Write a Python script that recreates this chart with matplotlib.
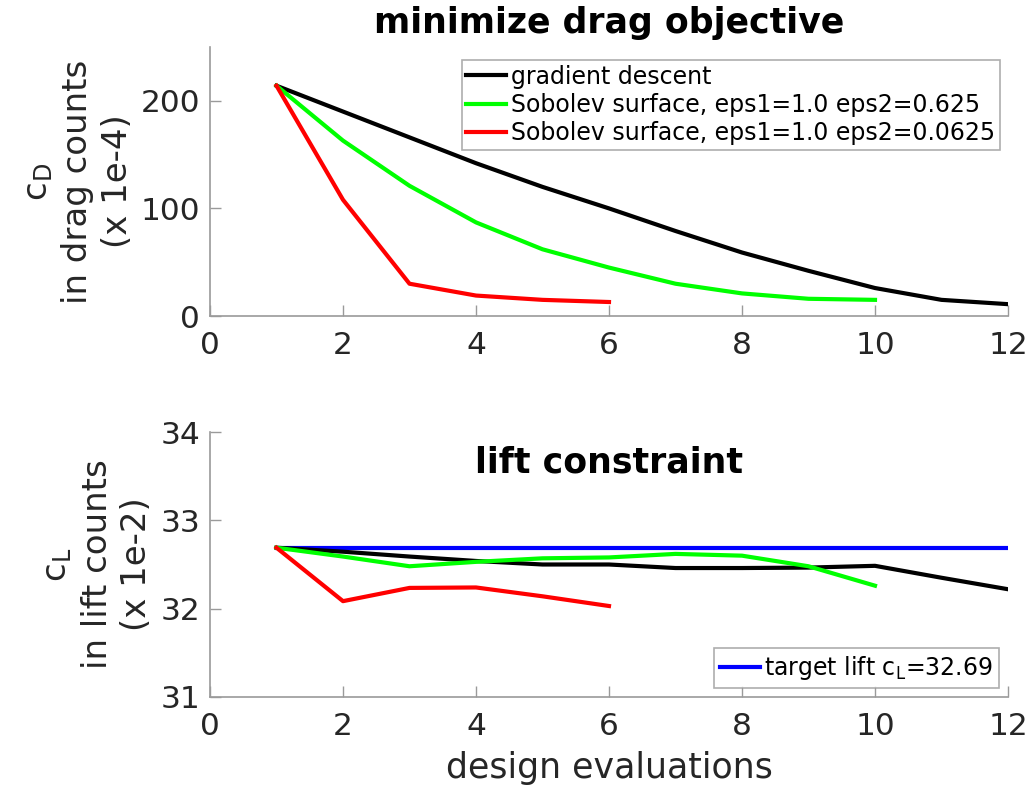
import matplotlib
matplotlib.use("Agg")
import matplotlib.pyplot as plt

plt.rcParams['font.family'] = ['DejaVu Sans']
plt.rcParams['mathtext.default'] = 'regular'

# design evaluation indices
evals_gd = [1, 2, 3, 4, 5, 6, 7, 8, 9, 10, 11, 12]
evals_sob1 = [1, 2, 3, 4, 5, 6, 7, 8, 9, 10]
evals_sob2 = [1, 2, 3, 4, 5, 6]

# drag coefficient (drag counts, x 1e-4)
cd_gd = [214, 190, 166, 142, 120, 100, 79, 59, 42, 26, 15, 11]
cd_sob1 = [214, 163, 121, 87, 62, 45, 30, 21, 16, 15]
cd_sob2 = [214, 108, 30, 19, 15, 13]

# lift coefficient (lift counts, x 1e-2)
cl_gd = [32.69, 32.645, 32.59, 32.54, 32.50, 32.50, 32.46, 32.46, 32.465, 32.485, 32.35, 32.22]
cl_sob1 = [32.69, 32.59, 32.48, 32.53, 32.57, 32.58, 32.62, 32.60, 32.48, 32.26]
cl_sob2 = [32.69, 32.085, 32.235, 32.24, 32.14, 32.03]
cl_target = 32.69

labels = ["gradient descent",
          "Sobolev surface, eps1=1.0 eps2=0.625",
          "Sobolev surface, eps1=1.0 eps2=0.0625"]
colors = ["#000000", "#00ff00", "#ff0000"]

axis_gray = "#9a9a9a"
text_gray = "#262626"

fig = plt.figure(figsize=(10.32, 7.88), dpi=100)
ax1 = fig.add_axes([210/1032, 1 - 316/788, 798/1032, 269/788])
ax2 = fig.add_axes([210/1032, 1 - 697/788, 798/1032, 265/788])


def style(ax):
    for s in ("top", "right"):
        ax.spines[s].set_visible(False)
    for s in ("left", "bottom"):
        ax.spines[s].set_color(axis_gray)
        ax.spines[s].set_linewidth(1.2)
    ax.tick_params(direction="in", length=8, width=1, color=axis_gray,
                   labelcolor=text_gray, labelsize=22.5)
    ax.tick_params(axis="x", pad=11)
    ax.tick_params(axis="y", pad=7)
    ax.set_xlim(0, 12)
    ax.set_xticks(range(0, 13, 2))


lw = 3
ax1.plot(evals_gd, cd_gd, color=colors[0], lw=lw, label=labels[0])
ax1.plot(evals_sob1, cd_sob1, color=colors[1], lw=lw, label=labels[1])
ax1.plot(evals_sob2, cd_sob2, color=colors[2], lw=lw, label=labels[2])
style(ax1)
ax1.set_ylim(0, 250)
ax1.set_yticks([0, 100, 200])
ax1.set_title("minimize drag objective", fontsize=25, fontweight="bold", pad=10)
ax1.set_ylabel("c$_D$\nin drag counts\n(x 1e-4)", fontsize=24.5, color=text_gray,
               linespacing=1.25, labelpad=5)
leg1 = ax1.legend(loc="upper right", fontsize=17, frameon=True, fancybox=False,
                  handlelength=1.7, handletextpad=0.2, borderpad=0.2,
                  labelspacing=0.18, borderaxespad=0,
                  bbox_to_anchor=(0.990, 0.952))
leg1.get_frame().set_edgecolor(axis_gray)
leg1.get_frame().set_linewidth(1.2)

ax2.plot(evals_gd, [cl_target] * len(evals_gd), color="#0000ff", lw=lw,
         label="target lift c$_L$=32.69", zorder=1)
ax2.plot(evals_gd, cl_gd, color=colors[0], lw=lw, zorder=2)
ax2.plot(evals_sob1, cl_sob1, color=colors[1], lw=lw, zorder=3)
ax2.plot(evals_sob2, cl_sob2, color=colors[2], lw=lw, zorder=4)
style(ax2)
ax2.set_ylim(31, 34)
ax2.set_yticks([31, 32, 33, 34])
ax2.text(0.5, 0.885, "lift constraint", transform=ax2.transAxes, ha="center",
         va="center", fontsize=25, fontweight="bold")
ax2.set_ylabel("c$_L$\nin lift counts\n(x 1e-2)", fontsize=24.5, color=text_gray,
               linespacing=1.25, labelpad=5)
ax2.set_xlabel("design evaluations", fontsize=25, color=text_gray, labelpad=7)
leg2 = ax2.legend(loc="lower right", fontsize=17, frameon=True, fancybox=False,
                  handlelength=1.7, handletextpad=0.2, borderpad=0.25,
                  borderaxespad=0, bbox_to_anchor=(0.989, 0.034))
leg2.get_frame().set_edgecolor(axis_gray)
leg2.get_frame().set_linewidth(1.2)

fig.savefig("out.png", dpi=100, facecolor="white")
